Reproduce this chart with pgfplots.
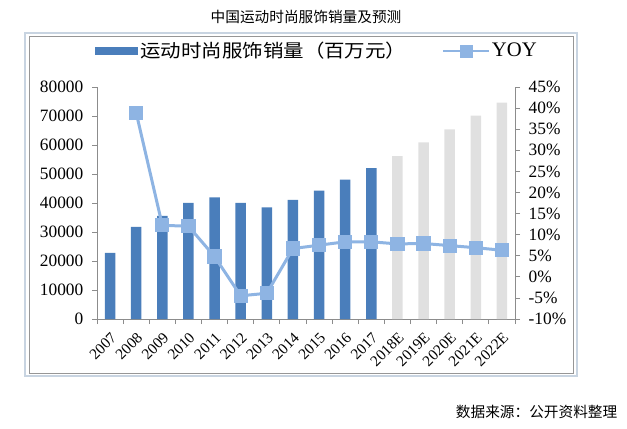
\documentclass[border=0pt]{standalone}
\usepackage{fontspec}
\setmainfont{Liberation Serif}
\newfontfamily\cjk{Noto Sans CJK SC}
\usepackage{graphicx}
\usepackage{pgfplots}
\pgfplotsset{compat=1.18}
\definecolor{barblue}{RGB}{74,126,187}
\definecolor{foregray}{RGB}{224,224,224}
\definecolor{yoyblue}{RGB}{142,180,227}
\definecolor{axisgray}{RGB}{140,140,140}
\definecolor{frameout}{RGB}{200,212,225}
\definecolor{framein}{RGB}{150,150,150}
\begin{document}
\begin{tikzpicture}
\path[use as bounding box] (0,0) rectangle (470.25pt,321pt);
\draw[frameout, line width=0.9pt] (18.75pt,39pt) rectangle (432.75pt,296.25pt);
\draw[framein, line width=0.7pt] (21.75pt,41.25pt) rectangle (429.75pt,294pt);
\node[font=\cjk\fontsize{11}{13}\selectfont] at (229.5pt,308.25pt) {中国运动时尚服饰销量及预测};
\node[font=\cjk\fontsize{11}{13}\selectfont, anchor=east] at (466.5pt,12pt) {数据来源：公开资料整理};

\begin{axis}[
  at={(72.75pt,81.75pt)}, anchor=south west,
  scale only axis, width=313.5pt, height=174pt,
  xmin=-0.5, xmax=15.5, ymin=0, ymax=80000,
  axis x line*=bottom, axis y line*=left,
  axis line style={axisgray, -, line width=0.6pt},
  ytick={0,10000,20000,30000,40000,50000,60000,70000,80000},
  scaled y ticks=false,
  /pgf/number format/assume math mode=true,
  /pgf/number format/1000 sep={},
  xtick={0,...,15},
  xticklabels={2007,2008,2009,2010,2011,2012,2013,2014,2015,2016,2017,2018E,2019E,2020E,2021E,2022E},
  major x tick style={draw=none},
  minor xtick={-0.5,0.5,...,15.5},
  tick align=outside,
  major tick length=3.75pt, minor tick length=3.75pt,
  tick style={axisgray, line width=0.6pt},
  yticklabel style={font=\fontsize{13}{15}\selectfont, text=black},
  yticklabel shift=3pt,
  xticklabel style={rotate=45, anchor=north east, font=\fontsize{11.5}{13}\selectfont, text=black, inner sep=1pt},
  xticklabel shift=4pt,
  ybar, bar width=7.9pt,
  legend columns=2,
  legend style={draw=none, fill=none, at={(-0.014,1.155)}, anchor=west,
    nodes={inner sep=1.5pt},
    /tikz/every even column/.append style={column sep=25pt}},
]
\addplot[fill=barblue, draw=none, bar shift=0pt,
  legend image code/.code={\fill[barblue] (0pt,-3pt) rectangle (32pt,3pt);}]
  coordinates {(0,22800) (1,31800) (2,35600) (3,40000) (4,41900) (5,40000) (6,38500) (7,41100) (8,44300) (9,48100) (10,52000)};
\addlegendentry{\cjk\fontsize{13.6}{16}\selectfont\scalebox{1.13}[1]{运动时尚服饰销量（百万元）}}
\addplot[fill=foregray, draw=none, bar shift=0pt, forget plot]
  coordinates {(11,56200) (12,60900) (13,65400) (14,70100) (15,74600)};
\addlegendimage{legend image code/.code={\draw[yoyblue,line width=2.1pt] (0pt,0pt) -- (34pt,0pt); \fill[yoyblue] (12.5pt,-4.5pt) rectangle (21.5pt,4.5pt);}}
\addlegendentry{\fontsize{15.5}{17}\selectfont YOY}
\end{axis}

\begin{axis}[
  at={(72.75pt,81.75pt)}, anchor=south west,
  scale only axis, width=313.5pt, height=174pt,
  xmin=-0.5, xmax=15.5, ymin=-10, ymax=45,
  axis x line=none, axis y line*=right,
  axis line style={axisgray, -, line width=0.6pt},
  ytick={-10,-5,0,5,10,15,20,25,30,35,40,45},
  /pgf/number format/assume math mode=true,
  yticklabel={\pgfmathprintnumber{\tick}\%},
  tick align=outside,
  major tick length=3.75pt,
  tick style={axisgray, line width=0.6pt},
  yticklabel style={font=\fontsize{13}{15}\selectfont, text=black},
  yticklabel shift=3pt,
]
\addplot[yoyblue, line width=2.25pt, mark=square*, mark size=4.2pt, mark options={fill=yoyblue, draw=none}]
  coordinates {(1,38.9) (2,12.2) (3,12.0) (4,4.8) (5,-4.5) (6,-3.9) (7,6.7) (8,7.5) (9,8.3) (10,8.3) (11,7.8) (12,7.9) (13,7.4) (14,6.9) (15,6.3)};
\end{axis}
\end{tikzpicture}
\end{document}
